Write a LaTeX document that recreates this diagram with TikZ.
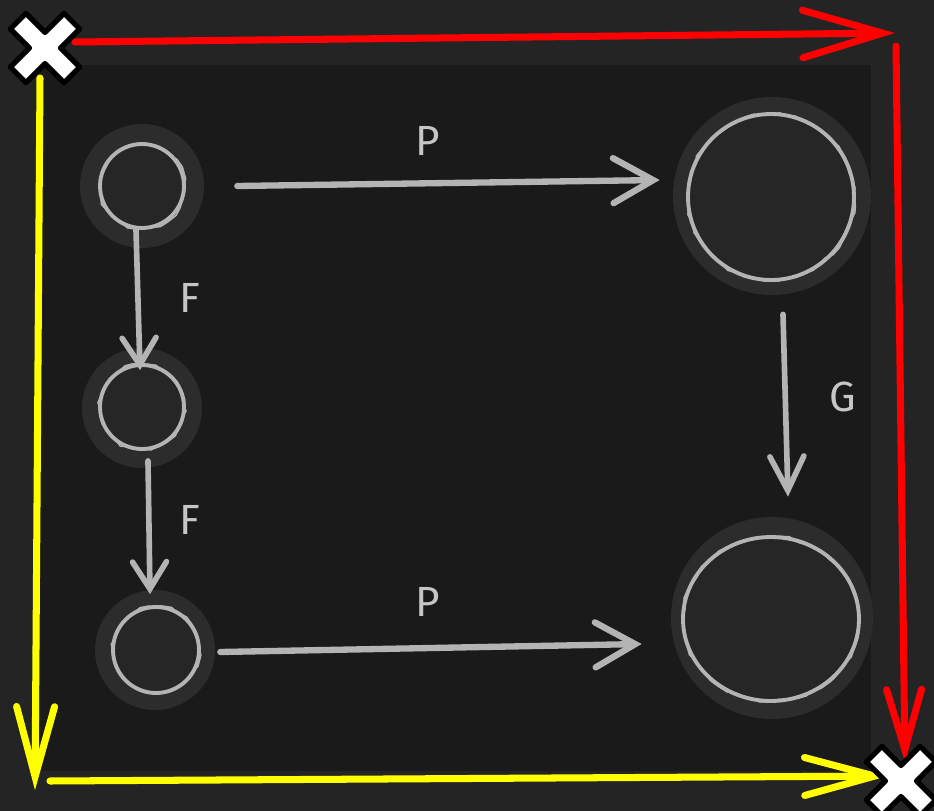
\documentclass[tikz,border=0pt]{standalone}
\usepackage{fontspec}
\setmainfont{Fira Sans}
\usetikzlibrary{arrows.meta,decorations.pathmorphing,shapes.geometric}
\definecolor{board}{HTML}{242424}
\definecolor{innerboard}{HTML}{1A1A1A}
\definecolor{halocol}{HTML}{2C2C2C}
\definecolor{chalkfill}{HTML}{262626}
\definecolor{chalk}{HTML}{B4B4B4}
\definecolor{chalktext}{HTML}{C6C6C6}
\definecolor{redline}{HTML}{FF0000}
\definecolor{yelline}{HTML}{FFFF00}
\begin{document}
\begin{tikzpicture}[x=0.02cm,y=-0.02cm,
  halo/.style={circle, fill=halocol, inner sep=0pt},
  chalkc/.style={circle, draw=chalk, fill=chalkfill, line width=2.2pt, inner sep=0pt,
    postaction={draw=chalk, line width=0.8pt, decorate,
      decoration={random steps, segment length=5pt, amplitude=1.1pt}}},
  chalkarrow/.style={draw=chalk, line width=3.2pt, line cap=round, line join=round},
  chalklabel/.style={text=chalktext, font=\fontsize{24}{28}\selectfont, inner sep=0pt},
  border/.style={line width=4pt, line cap=round, line join=round},
  xmark/.pic={\draw[fill=white, draw=black, line width=3pt, line join=round, rotate=45]
     (-11,-38) -- (11,-38) -- (11,-11) -- (38,-11) -- (38,11) -- (11,11) -- (11,38)
     -- (-11,38) -- (-11,11) -- (-38,11) -- (-38,-11) -- (-11,-11) -- cycle;}
]
\useasboundingbox (0,0) rectangle (934,811);
\fill[board] (0,0) rectangle (934,811);
\fill[innerboard] (40,65) rectangle (871,771);

% border arrows
\coordinate (tl1) at (75,42);
\coordinate (tr) at (895,33);
\coordinate (tr2) at (896,46);
\coordinate (br1) at (905,762);
\coordinate (tl2) at (40,78);
\coordinate (bl) at (35,790);
\coordinate (bl2) at (50,781);
\coordinate (br2) at (888,776);
\draw[border, draw=redline, -{Straight Barb[length=1.6cm,width=0.95cm,line cap=round]}] (tl1) -- (tr);
\draw[border, draw=redline, -{Straight Barb[length=1.2cm,width=0.7cm,line cap=round]}] (tr2) -- (br1);
\draw[border, draw=yelline, -{Straight Barb[length=1.4cm,width=0.76cm,line cap=round]}] (tl2) -- (bl);
\draw[border, draw=yelline, -{Straight Barb[length=1.4cm,width=0.76cm,line cap=round]}] (bl2) -- (br2);

% X marks
\coordinate (xTL) at (45,48);
\coordinate (xBR) at (901,781);
\pic at (xTL) {xmark};
\pic at (xBR) {xmark};

% halos
\node[halo, minimum size=2.48cm] (hA) at (142,186) {};
\node[halo, minimum size=2.40cm] (hB) at (142,408) {};
\node[halo, minimum size=2.40cm] (hC) at (155,650) {};
\node[halo, minimum size=3.96cm] (hD) at (772,196) {};
\node[halo, minimum size=4.04cm] (hE) at (772,618) {};

% chalk circles
\node[chalkc, minimum size=1.68cm] (cA) at (142,186) {};
\node[chalkc, minimum size=1.68cm] (cB) at (142,407) {};
\node[chalkc, minimum size=1.72cm] (cC) at (156,650) {};
\node[chalkc, minimum size=3.32cm] (cD) at (771,197) {};
\node[chalkc, ellipse, minimum width=3.52cm, minimum height=3.28cm] (cE) at (771,619) {};

% connectors
\draw[chalkarrow, -{Straight Barb[length=0.54cm,width=0.68cm,line cap=round]}]
  ([xshift=-0.12cm]cA.south) -- ([xshift=-0.04cm,yshift=-0.14cm]cB.north);
\draw[chalkarrow, -{Straight Barb[length=0.54cm,width=0.68cm,line cap=round]}]
  ([xshift=0.12cm,yshift=-0.2cm]cB.south) -- ([xshift=-0.12cm,yshift=0.22cm]cC.north);
\draw[chalkarrow, line width=3.6pt, -{Straight Barb[length=0.8cm,width=0.9cm,line cap=round]}]
  ([xshift=0.66cm]hA.east) -- ([xshift=-0.26cm,yshift=0.32cm]hD.west);
\draw[chalkarrow, line width=3.6pt, -{Straight Barb[length=0.8cm,width=0.9cm,line cap=round]}]
  ([xshift=0.1cm,yshift=-0.04cm]hC.east) -- ([xshift=-0.58cm,yshift=-0.52cm]hE.west);
\draw[chalkarrow, -{Straight Barb[length=0.68cm,width=0.68cm,line cap=round]}]
  ([xshift=0.22cm,yshift=-0.38cm]hD.south) -- ([xshift=0.32cm,yshift=0.4cm]hE.north);

% labels
\node[chalklabel] (lP1) at (428,141) {P};
\node[chalklabel] (lP2) at (428,602) {P};
\node[chalklabel] (lF1) at (190,298) {F};
\node[chalklabel] (lF2) at (190,520) {F};
\node[chalklabel] (lG) at (843,397) {G};
\end{tikzpicture}
\end{document}
